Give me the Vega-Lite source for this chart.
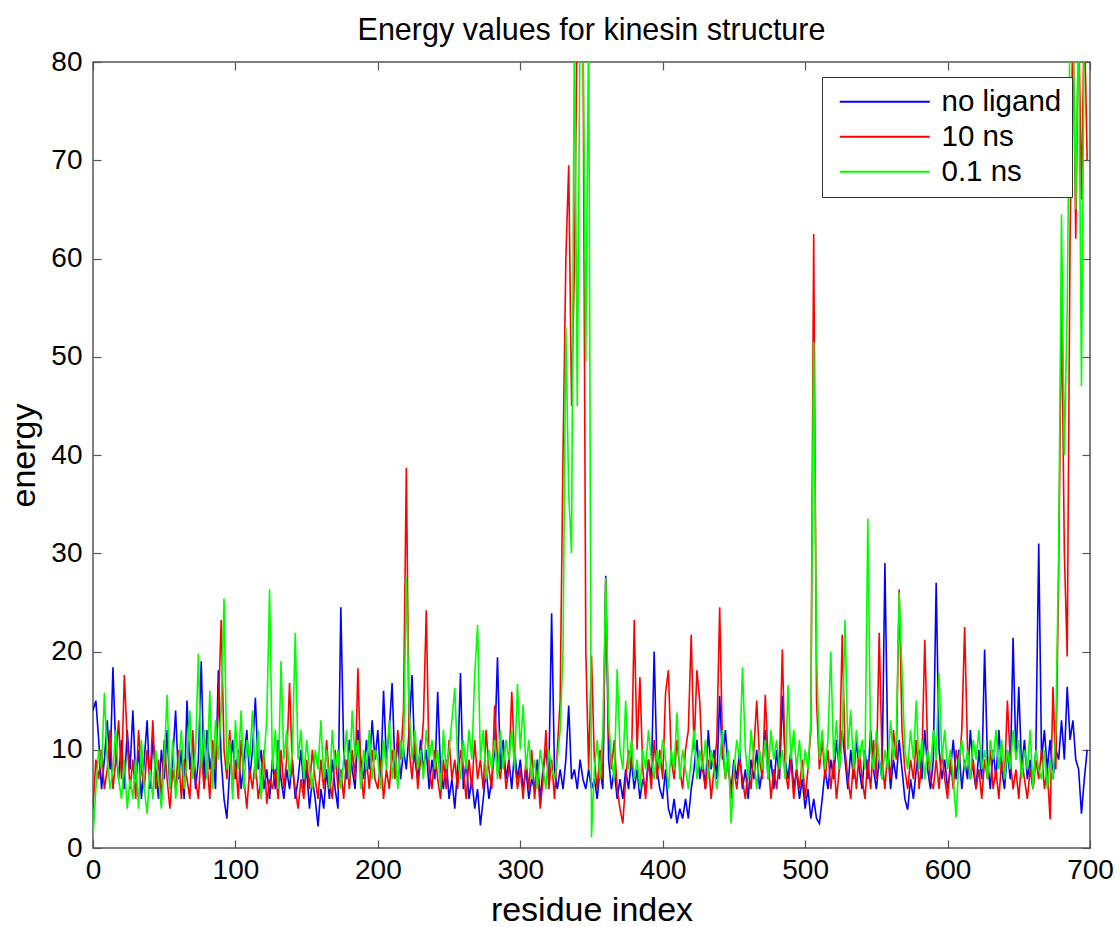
{
"$schema": "https://vega.github.io/schema/vega-lite/v6.json",
"width": 997, "height": 786,
"autosize": {"type": "none"},
"padding": {"left": 93, "top": 62, "right": 30, "bottom": 79},
"background": "white",
"title": {"text": "Energy values for kinesin structure", "fontSize": 30.5, "font": "Liberation Sans", "fontWeight": "normal", "color": "black", "offset": 2, "anchor": "middle"},
"config": {
 "view": {"stroke": "#555555", "strokeWidth": 1.5},
 "axis": {"labelFont": "Liberation Sans", "titleFont": "Liberation Sans", "labelFontSize": 28, "titleFontSize": 34, "titleFontWeight": "normal", "labelColor": "black", "titleColor": "black", "grid": false, "domain": false, "tickColor": "#555555", "tickSize": -8, "tickWidth": 1.2, "labelFlush": false}
},
"data": {"values": [
{"i":0,"b":14,"r":4,"g":1},{"i":2,"b":15,"r":9,"g":6},{"i":4,"b":11,"r":7,"g":10},{"i":6,"b":6,"r":10,"g":8},{"i":8,"b":9,"r":6,"g":15.8},
{"i":10,"b":13,"r":8,"g":9},{"i":12,"b":8,"r":12,"g":6},{"i":14,"b":18.4,"r":6,"g":8},{"i":16,"b":10,"r":9,"g":12},{"i":18,"b":7,"r":13,"g":7},
{"i":20,"b":11,"r":7,"g":5},{"i":22,"b":6,"r":17.6,"g":9},{"i":24,"b":12,"r":11,"g":4},{"i":26,"b":8,"r":6,"g":7},{"i":28,"b":14,"r":9,"g":5},
{"i":30,"b":7,"r":5,"g":9},{"i":32,"b":10,"r":12,"g":4},{"i":34,"b":5,"r":8,"g":11},{"i":36,"b":9,"r":6,"g":6},{"i":38,"b":13,"r":10,"g":3.5},
{"i":40,"b":6,"r":7,"g":8},{"i":42,"b":11,"r":13,"g":5},{"i":44,"b":8,"r":6,"g":10},{"i":46,"b":5,"r":9,"g":7},{"i":48,"b":10,"r":5,"g":4},
{"i":50,"b":7,"r":11,"g":9},{"i":52,"b":12,"r":7,"g":15.6},{"i":54,"b":6,"r":4,"g":6},{"i":56,"b":9,"r":8,"g":11},{"i":58,"b":14,"r":6,"g":5},
{"i":60,"b":7,"r":10,"g":8},{"i":62,"b":10,"r":5,"g":12},{"i":64,"b":5,"r":9,"g":6},{"i":66,"b":15,"r":7,"g":9},{"i":68,"b":8,"r":5,"g":14},
{"i":70,"b":11,"r":12,"g":7},{"i":72,"b":6,"r":7,"g":10},{"i":74,"b":9,"r":5,"g":19.8},{"i":76,"b":19,"r":10,"g":8},{"i":78,"b":7,"r":6,"g":12},
{"i":80,"b":12,"r":9,"g":7},{"i":82,"b":8,"r":5,"g":16},{"i":84,"b":10,"r":11,"g":6},{"i":86,"b":6,"r":8,"g":13},{"i":88,"b":18.1,"r":14,"g":9},
{"i":90,"b":9,"r":23.2,"g":14},{"i":92,"b":5,"r":10,"g":25.4},{"i":94,"b":3,"r":7,"g":8},{"i":96,"b":8,"r":12,"g":11},{"i":98,"b":11,"r":6,"g":5},
{"i":100,"b":7,"r":9,"g":13},{"i":102,"b":10,"r":5,"g":8},{"i":104,"b":6,"r":11,"g":14},{"i":106,"b":9,"r":7,"g":6},{"i":108,"b":12,"r":4,"g":11},
{"i":110,"b":7,"r":8,"g":9},{"i":112,"b":10,"r":6,"g":14},{"i":114,"b":15.3,"r":9,"g":7},{"i":116,"b":8,"r":5,"g":12},{"i":118,"b":10,"r":7,"g":5},
{"i":120,"b":6,"r":10,"g":9},{"i":122,"b":8,"r":4.5,"g":13},{"i":124,"b":5,"r":7,"g":26.3},{"i":126,"b":9,"r":6,"g":8},{"i":128,"b":6,"r":8,"g":12},
{"i":130,"b":11,"r":5,"g":6},{"i":132,"b":7,"r":10,"g":19},{"i":134,"b":5,"r":6,"g":9},{"i":136,"b":8,"r":9,"g":12},{"i":138,"b":6,"r":16.8,"g":7},
{"i":140,"b":9,"r":8,"g":10},{"i":142,"b":5,"r":6,"g":21.9},{"i":144,"b":7,"r":4,"g":9},{"i":146,"b":10,"r":7,"g":12},{"i":148,"b":6,"r":5,"g":7},
{"i":150,"b":8,"r":9,"g":11},{"i":152,"b":4,"r":6,"g":8},{"i":154,"b":7,"r":10,"g":6},{"i":156,"b":5,"r":7,"g":10},{"i":158,"b":2.2,"r":5,"g":8},
{"i":160,"b":6,"r":9,"g":13},{"i":162,"b":4,"r":6,"g":7},{"i":164,"b":8,"r":11,"g":10},{"i":166,"b":5,"r":7,"g":6},{"i":168,"b":9,"r":5,"g":12},
{"i":170,"b":6,"r":10,"g":8},{"i":172,"b":4,"r":6,"g":10},{"i":174,"b":24.5,"r":8,"g":6},{"i":176,"b":10,"r":5,"g":9},{"i":178,"b":7,"r":9,"g":12},
{"i":180,"b":11,"r":6,"g":7},{"i":182,"b":8,"r":10,"g":14},{"i":184,"b":6,"r":7,"g":9},{"i":186,"b":12,"r":18.3,"g":11},{"i":188,"b":9,"r":8,"g":6},
{"i":190,"b":7,"r":5,"g":10},{"i":192,"b":11,"r":9,"g":8},{"i":194,"b":8,"r":6,"g":12},{"i":196,"b":13,"r":10,"g":7},{"i":198,"b":9,"r":7,"g":10},
{"i":200,"b":12,"r":6,"g":9},{"i":202,"b":7,"r":9,"g":6},{"i":204,"b":16,"r":5,"g":11},{"i":206,"b":9,"r":8,"g":8},{"i":208,"b":12,"r":6,"g":13},
{"i":210,"b":16.8,"r":10,"g":7},{"i":212,"b":8,"r":7,"g":10},{"i":214,"b":11,"r":12,"g":6},{"i":216,"b":7,"r":9,"g":11},{"i":218,"b":10,"r":14,"g":9},
{"i":220,"b":8,"r":38.7,"g":27.5},{"i":222,"b":12,"r":10,"g":14},{"i":224,"b":17.6,"r":7,"g":9},{"i":226,"b":9,"r":11,"g":12},{"i":228,"b":7,"r":6,"g":8},
{"i":230,"b":11,"r":9,"g":10},{"i":232,"b":8,"r":13,"g":7},{"i":234,"b":10,"r":24.2,"g":12},{"i":236,"b":6,"r":8,"g":9},{"i":238,"b":9,"r":6,"g":11},
{"i":240,"b":7,"r":10,"g":8},{"i":242,"b":15.9,"r":7,"g":10},{"i":244,"b":8,"r":5,"g":6},{"i":246,"b":6,"r":9,"g":12},{"i":248,"b":9,"r":6,"g":8},
{"i":250,"b":5,"r":11,"g":10},{"i":252,"b":7,"r":7,"g":13},{"i":254,"b":4,"r":9,"g":16.3},{"i":256,"b":8,"r":6,"g":9},{"i":258,"b":17.8,"r":10,"g":7},
{"i":260,"b":6,"r":8,"g":11},{"i":262,"b":9,"r":5,"g":8},{"i":264,"b":5,"r":9,"g":12},{"i":266,"b":7,"r":6,"g":9},{"i":268,"b":4,"r":11,"g":17.6},
{"i":270,"b":6,"r":7,"g":22.7},{"i":272,"b":2.3,"r":9,"g":9},{"i":274,"b":5,"r":6,"g":12},{"i":276,"b":8,"r":12,"g":7},{"i":278,"b":5,"r":8,"g":10},
{"i":280,"b":7,"r":6,"g":8},{"i":282,"b":10,"r":14.5,"g":11},{"i":284,"b":19.4,"r":9,"g":7},{"i":286,"b":8,"r":7,"g":12},{"i":288,"b":11,"r":10,"g":8},
{"i":290,"b":7,"r":6,"g":11},{"i":292,"b":9,"r":8,"g":9},{"i":294,"b":6,"r":15.9,"g":12},{"i":296,"b":10,"r":9,"g":8},{"i":298,"b":7,"r":6,"g":16.7},
{"i":300,"b":9,"r":8,"g":10},{"i":302,"b":6,"r":5,"g":14.6},{"i":304,"b":8,"r":9,"g":8},{"i":306,"b":5,"r":6,"g":11},{"i":308,"b":7,"r":10,"g":7},
{"i":310,"b":6,"r":5,"g":9},{"i":312,"b":9,"r":8,"g":6},{"i":314,"b":5,"r":4,"g":10},{"i":316,"b":8,"r":7,"g":8},{"i":318,"b":10,"r":12,"g":6},
{"i":320,"b":7,"r":6,"g":10},{"i":322,"b":23.9,"r":9,"g":8},{"i":324,"b":8,"r":5,"g":7},{"i":326,"b":6,"r":10,"g":9},{"i":328,"b":8,"r":15,"g":12},
{"i":330,"b":6,"r":40,"g":20},{"i":332,"b":9,"r":60,"g":53},{"i":334,"b":14.5,"r":69.5,"g":36},{"i":336,"b":7,"r":45,"g":30},{"i":338,"b":8,"r":59,"g":85},
{"i":340,"b":6,"r":85,"g":45},{"i":342,"b":9,"r":85,"g":85},{"i":344,"b":7,"r":85,"g":85},{"i":346,"b":6,"r":20,"g":49.5},{"i":348,"b":8,"r":8,"g":85},
{"i":350,"b":6,"r":19.6,"g":1.1},{"i":352,"b":7,"r":9,"g":8},{"i":354,"b":5,"r":6,"g":11},{"i":356,"b":8,"r":10,"g":7},{"i":358,"b":6,"r":7,"g":12},
{"i":360,"b":27.7,"r":27.3,"g":27.5},{"i":362,"b":9,"r":12,"g":13},{"i":364,"b":6,"r":8,"g":9},{"i":366,"b":8,"r":11,"g":7},{"i":368,"b":5,"r":6,"g":18.2},
{"i":370,"b":7,"r":4,"g":10},{"i":372,"b":5,"r":2.5,"g":8},{"i":374,"b":8,"r":7,"g":15},{"i":376,"b":6,"r":10,"g":8},{"i":378,"b":9,"r":8,"g":11},
{"i":380,"b":6,"r":23.2,"g":7},{"i":382,"b":8,"r":10,"g":9},{"i":384,"b":5,"r":17.4,"g":6},{"i":386,"b":7,"r":8,"g":10},{"i":388,"b":6,"r":5,"g":8},
{"i":390,"b":9,"r":9,"g":12},{"i":392,"b":7,"r":6,"g":9},{"i":394,"b":20,"r":11,"g":7},{"i":396,"b":8,"r":7,"g":10},{"i":398,"b":6,"r":10,"g":8},
{"i":400,"b":5,"r":7,"g":11},{"i":402,"b":8,"r":15.8,"g":9},{"i":404,"b":4,"r":18.1,"g":6},{"i":406,"b":3,"r":9,"g":10},{"i":408,"b":5,"r":7,"g":8},
{"i":410,"b":2.5,"r":11,"g":13.8},{"i":412,"b":4,"r":8,"g":7},{"i":414,"b":3,"r":6,"g":10},{"i":416,"b":5,"r":10,"g":8},{"i":418,"b":3,"r":12,"g":6},
{"i":420,"b":6,"r":21.7,"g":9},{"i":422,"b":8,"r":10,"g":12},{"i":424,"b":11,"r":18.1,"g":7},{"i":426,"b":7,"r":14.9,"g":10},{"i":428,"b":9,"r":8,"g":8},
{"i":430,"b":6,"r":6,"g":11},{"i":432,"b":12,"r":9,"g":7},{"i":434,"b":8,"r":5,"g":10},{"i":436,"b":10,"r":8,"g":8},{"i":438,"b":7,"r":11,"g":6},
{"i":440,"b":15.5,"r":24.5,"g":9},{"i":442,"b":9,"r":10,"g":12},{"i":444,"b":12,"r":7,"g":7},{"i":446,"b":8,"r":9,"g":10},{"i":448,"b":6,"r":5,"g":2.5},
{"i":450,"b":9,"r":8,"g":8},{"i":452,"b":7,"r":6,"g":11},{"i":454,"b":10,"r":9,"g":9},{"i":456,"b":6,"r":7,"g":18.4},{"i":458,"b":8,"r":5,"g":10},
{"i":460,"b":5,"r":8,"g":7},{"i":462,"b":9,"r":6,"g":12},{"i":464,"b":7,"r":10,"g":9},{"i":466,"b":10,"r":15,"g":6},{"i":468,"b":6,"r":9,"g":10},
{"i":470,"b":8,"r":7,"g":8},{"i":472,"b":12,"r":15.6,"g":11},{"i":474,"b":7,"r":9,"g":7},{"i":476,"b":9,"r":5,"g":12},{"i":478,"b":6,"r":8,"g":9},
{"i":480,"b":10,"r":6,"g":11},{"i":482,"b":7,"r":9,"g":8},{"i":484,"b":15.5,"r":20.2,"g":10},{"i":486,"b":9,"r":8,"g":7},{"i":488,"b":7,"r":6,"g":16.6},
{"i":490,"b":10,"r":9,"g":9},{"i":492,"b":6,"r":5,"g":12},{"i":494,"b":8,"r":8,"g":8},{"i":496,"b":5,"r":6,"g":11},{"i":498,"b":7,"r":9,"g":7},
{"i":500,"b":4,"r":5,"g":10},{"i":502,"b":6,"r":8,"g":8},{"i":504,"b":3,"r":12,"g":13},{"i":506,"b":5,"r":62.5,"g":51.5},{"i":508,"b":3,"r":15,"g":20},
{"i":510,"b":2.5,"r":8,"g":9},{"i":512,"b":5,"r":11,"g":12},{"i":514,"b":8,"r":7,"g":8},{"i":516,"b":6,"r":10,"g":11},{"i":518,"b":9,"r":6,"g":20},
{"i":520,"b":7,"r":9,"g":9},{"i":522,"b":11,"r":5,"g":13},{"i":524,"b":8,"r":8,"g":8},{"i":526,"b":12,"r":21.7,"g":11},{"i":528,"b":9,"r":10,"g":23.2},
{"i":530,"b":6,"r":7,"g":10},{"i":532,"b":10,"r":5,"g":14},{"i":534,"b":7,"r":9,"g":8},{"i":536,"b":11,"r":6,"g":12},{"i":538,"b":8,"r":10,"g":9},
{"i":540,"b":6,"r":7,"g":11},{"i":542,"b":10,"r":5,"g":8},{"i":544,"b":7,"r":9,"g":33.5},{"i":546,"b":12,"r":6,"g":10},{"i":548,"b":8,"r":11,"g":8},
{"i":550,"b":6,"r":7,"g":12},{"i":552,"b":9,"r":21.9,"g":9},{"i":554,"b":7,"r":9,"g":7},{"i":556,"b":29,"r":6,"g":10},{"i":558,"b":10,"r":10,"g":8},
{"i":560,"b":6,"r":7,"g":13},{"i":562,"b":9,"r":12,"g":9},{"i":564,"b":7,"r":9,"g":11},{"i":566,"b":11,"r":26.3,"g":26},{"i":568,"b":8,"r":12,"g":18},
{"i":570,"b":5,"r":8,"g":10},{"i":572,"b":3.9,"r":6,"g":8},{"i":574,"b":7,"r":9,"g":12},{"i":576,"b":5,"r":7,"g":9},{"i":578,"b":8,"r":11,"g":15},
{"i":580,"b":10,"r":6,"g":8},{"i":582,"b":7,"r":9,"g":11},{"i":584,"b":12,"r":21.2,"g":7},{"i":586,"b":8,"r":10,"g":10},{"i":588,"b":6,"r":7,"g":8},
{"i":590,"b":9,"r":6,"g":12},{"i":592,"b":27,"r":9,"g":9},{"i":594,"b":10,"r":6,"g":17.8},{"i":596,"b":7,"r":10,"g":9},{"i":598,"b":9,"r":7,"g":12},
{"i":600,"b":6,"r":5,"g":8},{"i":602,"b":8,"r":9,"g":10},{"i":604,"b":11,"r":6,"g":7},{"i":606,"b":7,"r":10,"g":3.1},{"i":608,"b":10,"r":8,"g":9},
{"i":610,"b":6,"r":12,"g":11},{"i":612,"b":9,"r":22.5,"g":8},{"i":614,"b":7,"r":10,"g":10},{"i":616,"b":12,"r":7,"g":7},{"i":618,"b":8,"r":9,"g":11},
{"i":620,"b":6,"r":6,"g":9},{"i":622,"b":10,"r":8,"g":12},{"i":624,"b":7,"r":5,"g":8},{"i":626,"b":20.2,"r":9,"g":10},{"i":628,"b":9,"r":7,"g":7},
{"i":630,"b":6,"r":10,"g":11},{"i":632,"b":10,"r":6,"g":9},{"i":634,"b":7,"r":8,"g":12},{"i":636,"b":12,"r":5,"g":8},{"i":638,"b":8,"r":9,"g":11},
{"i":640,"b":6,"r":7,"g":7},{"i":642,"b":10,"r":15,"g":10},{"i":644,"b":7,"r":9,"g":8},{"i":646,"b":21.4,"r":6,"g":12},{"i":648,"b":9,"r":8,"g":9},
{"i":650,"b":16.4,"r":5,"g":11},{"i":652,"b":8,"r":9,"g":7},{"i":654,"b":11,"r":7,"g":10},{"i":656,"b":7,"r":5,"g":8},{"i":658,"b":9,"r":8,"g":12},
{"i":660,"b":6,"r":6,"g":6},{"i":662,"b":10,"r":9,"g":10},{"i":664,"b":31,"r":7,"g":8},{"i":666,"b":9,"r":10,"g":7},{"i":668,"b":12,"r":6,"g":10},
{"i":670,"b":8,"r":8,"g":6},{"i":672,"b":11,"r":2.9,"g":9},{"i":674,"b":7,"r":16.4,"g":7},{"i":676,"b":10,"r":8,"g":12},{"i":678,"b":9,"r":28,"g":30},
{"i":680,"b":13,"r":56,"g":64.5},{"i":682,"b":9,"r":30,"g":40},{"i":684,"b":16.4,"r":19.5,"g":55},{"i":686,"b":11,"r":62,"g":85},{"i":688,"b":13,"r":85,"g":85},
{"i":690,"b":9,"r":62,"g":65},{"i":692,"b":8,"r":85,"g":85},{"i":694,"b":3.5,"r":66,"g":47},{"i":696,"b":7,"r":85,"g":85},{"i":698,"b":10,"r":70,"g":85}
]},
"transform": [{"fold": ["b", "r", "g"], "as": ["s", "e"]}],
"layer": [
 {"mark": {"type": "line", "opacity": 0, "clip": true},
  "encoding": {
   "x": {"field": "i", "type": "quantitative", "scale": {"domain": [0, 700], "nice": false}, "axis": {"orient": "top", "labels": false, "title": null, "values": [0,100,200,300,400,500,600,700]}},
   "y": {"field": "e", "type": "quantitative", "scale": {"domain": [0, 80], "nice": false}, "axis": {"orient": "right", "labels": false, "title": null, "values": [0,10,20,30,40,50,60,70,80]}},
   "detail": {"field": "s"}
  }},
 {"mark": {"type": "line", "strokeWidth": 1.6, "clip": true},
  "encoding": {
   "x": {"field": "i", "type": "quantitative", "scale": {"domain": [0, 700], "nice": false}, "axis": {"orient": "bottom", "title": "residue index", "values": [0,100,200,300,400,500,600,700], "labelPadding": 16, "titlePadding": 9}},
   "y": {"field": "e", "type": "quantitative", "scale": {"domain": [0, 80], "nice": false}, "axis": {"orient": "left", "title": "energy", "values": [0,10,20,30,40,50,60,70,80], "labelPadding": 19, "titlePadding": 9}},
   "color": {"field": "s", "type": "nominal", "sort": ["b", "r", "g"],
    "scale": {"domain": ["b", "r", "g"], "range": ["#0000ff", "#ff0000", "#00ff00"]},
    "legend": {"orient": "none", "legendX": 729, "legendY": 15, "title": null, "symbolType": "M-1.4,0H16.6", "symbolSize": 100, "symbolStrokeWidth": 2, "labelFont": "Liberation Sans", "labelFontSize": 29.5, "labelColor": "black", "strokeColor": "#333333", "fillColor": "white", "padding": 10, "rowPadding": 4, "labelOffset": 80, "cornerRadius": 0,
     "labelExpr": "datum.label == 'b' ? 'no ligand' : datum.label == 'r' ? '10 ns' : '0.1 ns'"}
   }
  }}
],
"resolve": {"axis": {"x": "independent", "y": "independent"}}
}
